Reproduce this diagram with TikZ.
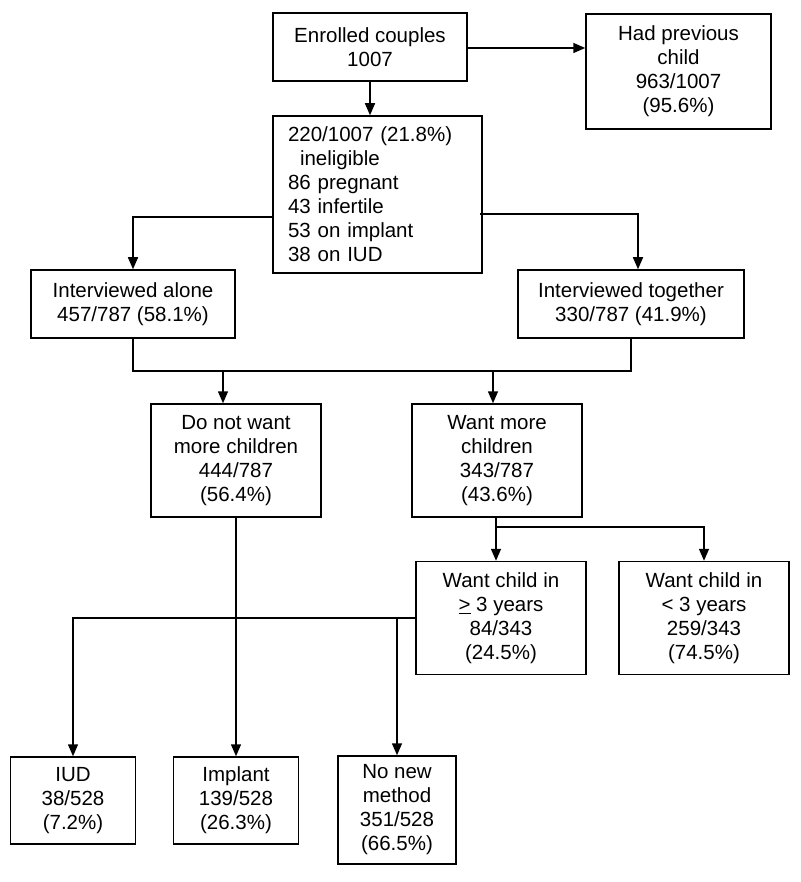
\documentclass[tikz,border=0pt]{standalone}
\usepackage{fontspec}
\setmainfont{Liberation Sans}
\usetikzlibrary{arrows.meta}
\begin{document}
\begin{tikzpicture}[x=1pt,y=-1pt,
  box/.style={draw, line width=1.5pt, inner sep=0pt, align=center,
    font=\fontsize{20.5}{24}\selectfont},
  conn/.style={line width=1.5pt},
  arr/.style={conn, -{Triangle[length=12pt,width=10pt]}}]
\useasboundingbox (0,0) rectangle (800,882);
\fill[white] (0,0) rectangle (800,882);
% nodes
\node[box, minimum width=194pt, minimum height=68pt] (enr) at (370,47) {Enrolled couples\\1007};
\node[box, minimum width=185pt, minimum height=115pt] (prev) at (678.5,71.5) {Had previous\\child\\963/1007\\(95.6\%)};
\node[box, minimum height=157pt, text width=179pt, inner xsep=15pt, align=left] (inel) at (377.5,194.5)
  {220/1007 (21.8\%)\\\hspace*{12pt}ineligible\\86 pregnant\\43 infertile\\53 on implant\\38 on IUD};
\node[box, minimum width=204pt, minimum height=68pt] (alone) at (133,304) {Interviewed alone\\457/787 (58.1\%)};
\node[box, minimum width=226pt, minimum height=68pt] (tog) at (631,304) {Interviewed together\\330/787 (41.9\%)};
\node[box, minimum width=170pt, minimum height=113pt] (dnw) at (236,460.5) {Do not want\\more children\\444/787\\(56.4\%)};
\node[box, minimum width=170pt, minimum height=113pt] (wmc) at (497,460.5) {Want more\\children\\343/787\\(43.6\%)};
\node[box, minimum width=170pt, minimum height=113pt] (ge3) at (501,618) {Want child in\\\underline{>} 3 years\\84/343\\(24.5\%)};
\node[box, minimum width=170pt, minimum height=113pt] (lt3) at (704,618) {Want child in\\< 3 years\\259/343\\(74.5\%)};
\node[box, minimum width=125pt, minimum height=87pt] (iud) at (73,800.5) {IUD\\38/528\\(7.2\%)};
\node[box, minimum width=125pt, minimum height=87pt] (imp) at (236,800.5) {Implant\\139/528\\(26.3\%)};
\node[box, minimum width=118pt, minimum height=108pt] (nnm) at (397,810) {No new\\method\\351/528\\(66.5\%)};
% junction coordinates
\coordinate (j) at (0,371);
\coordinate (k) at (0,527);
% connectors
\draw[arr] ([yshift=-1pt]enr.east) -- ([yshift=-1pt]enr.east -| prev.west);
\draw[arr] (enr.south) -- (enr.south |- inel.north);
\draw[arr] ([yshift=-22.5pt]inel.west) -| (alone.north);
\draw[arr] ([yshift=-19.5pt,xshift=-3pt]inel.east) -| ([xshift=7pt]tog.north);
\draw[conn] (alone.south) -- (alone.south |- j) -- (tog.south |- j) -- (tog.south);
\draw[arr] ([xshift=-13pt]dnw.north |- j) -- ([xshift=-13pt]dnw.north);
\draw[arr] ([xshift=-4pt]wmc.north |- j) -- ([xshift=-4pt]wmc.north);
\draw[arr] ([xshift=-1pt]wmc.south) -- ([xshift=-1pt]wmc.south |- ge3.north);
\draw[arr] ([xshift=-1pt]wmc.south |- k) -| (lt3.north);
\draw[arr] (dnw.south) -- (dnw.south |- imp.north);
\draw[arr] (ge3.west) -| (iud.north);
\draw[arr] (nnm.north |- ge3.west) -- (nnm.north);
\end{tikzpicture}
\end{document}
